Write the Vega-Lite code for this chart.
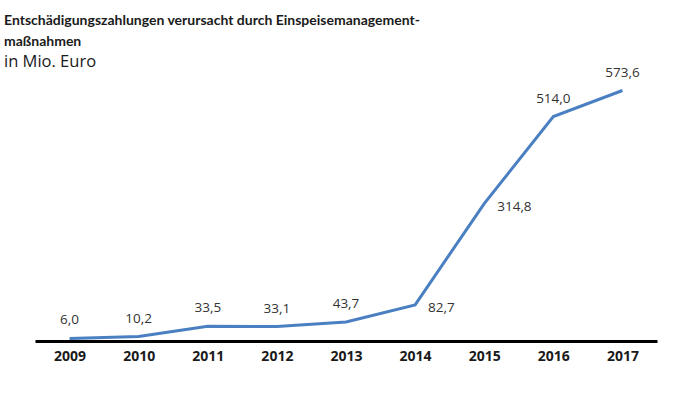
{
  "$schema": "https://vega.github.io/schema/vega-lite/v6.json",
  "autosize": "none",
  "width": 622,
  "height": 262,
  "padding": {"left": 35, "top": 79, "right": 27, "bottom": 57},
  "background": "white",
  "title": {
    "text": ["Entschädigungszahlungen verursacht durch Einspeisemanagement-", "maßnahmen"],
    "subtitle": "in Mio. Euro",
    "anchor": "start",
    "frame": "group",
    "dx": -31,
    "offset": -5,
    "font": "Lato",
    "fontSize": 14,
    "fontWeight": "bold",
    "color": "#1a1a1a",
    "lineHeight": 21,
    "subtitleFont": "Open Sans",
    "subtitleFontSize": 16.5,
    "subtitleColor": "#1a1a1a",
    "subtitlePadding": 5
  },
  "data": {
    "values": [
      {"year": "2009", "value": 6.0, "label": "6,0"},
      {"year": "2010", "value": 10.2, "label": "10,2"},
      {"year": "2011", "value": 33.5, "label": "33,5"},
      {"year": "2012", "value": 33.1, "label": "33,1"},
      {"year": "2013", "value": 43.7, "label": "43,7"},
      {"year": "2014", "value": 82.7, "label": "82,7"},
      {"year": "2015", "value": 314.8, "label": "314,8"},
      {"year": "2016", "value": 514.0, "label": "514,0"},
      {"year": "2017", "value": 573.6, "label": "573,6"}
    ]
  },
  "encoding": {
    "x": {
      "field": "year",
      "type": "ordinal",
      "scale": {"type": "point", "padding": 0.5},
      "axis": {
        "title": null,
        "labelAngle": 0,
        "domainColor": "#000000",
        "domainWidth": 3,
        "ticks": false,
        "grid": false,
        "labelFont": "Open Sans",
        "labelFontSize": 14,
        "labelFontWeight": "bold",
        "labelColor": "#1a1a1a",
        "labelPadding": 8
      }
    },
    "y": {
      "field": "value",
      "type": "quantitative",
      "scale": {"domain": [0, 600], "nice": false},
      "axis": null
    }
  },
  "layer": [
    {
      "mark": {"type": "line", "color": "#4a7fc1", "strokeWidth": 3}
    },
    {
      "transform": [{"filter": "datum.year != '2014' && datum.year != '2015'"}],
      "mark": {"type": "text", "dy": -18, "font": "Open Sans", "fontSize": 13.5, "color": "#333333"},
      "encoding": {"text": {"field": "label"}}
    },
    {
      "transform": [{"filter": "datum.year == '2014' || datum.year == '2015'"}],
      "mark": {"type": "text", "align": "left", "dx": 13, "dy": 3, "font": "Open Sans", "fontSize": 13.5, "color": "#333333"},
      "encoding": {"text": {"field": "label"}}
    }
  ],
  "config": {"view": {"stroke": null}}
}
